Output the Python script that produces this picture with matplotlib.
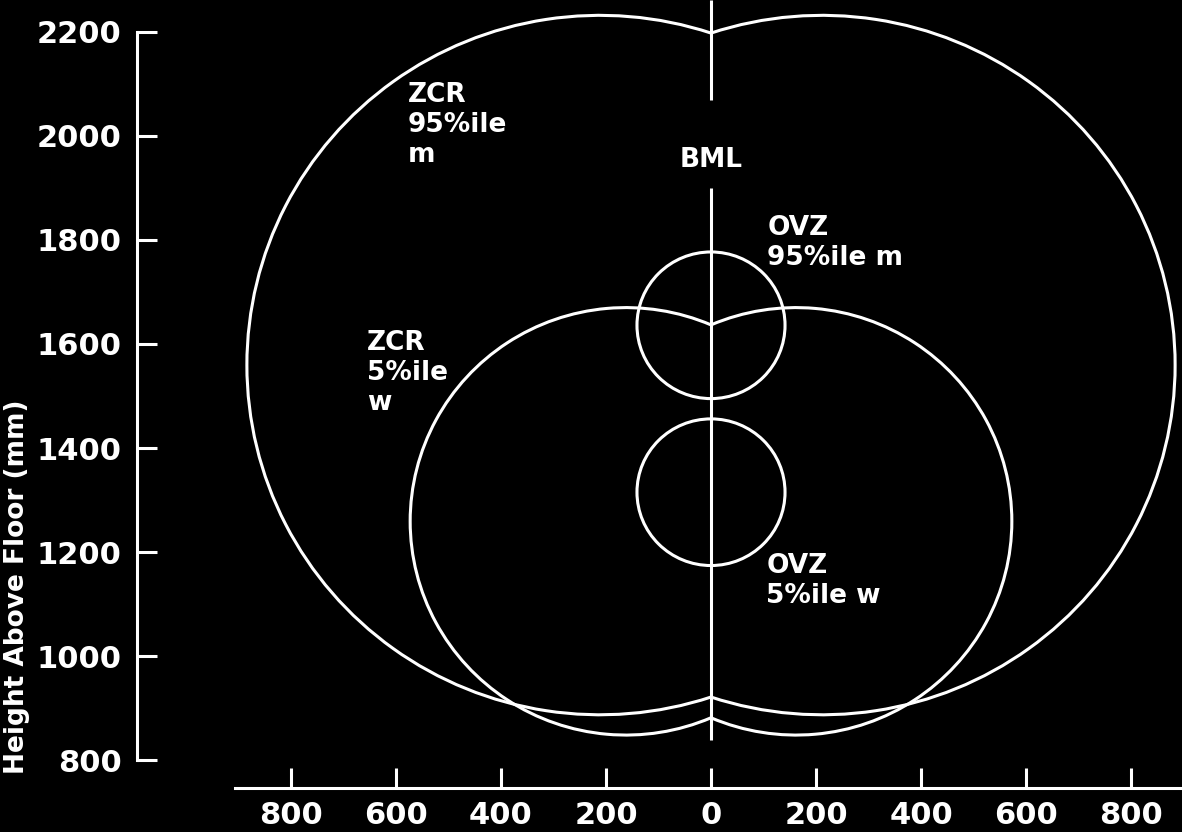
"""Reach envelopes (ZCR) and optimum visual zones (OVZ) about the body mid-line."""
import numpy as np
import matplotlib
matplotlib.use("Agg")
import matplotlib.pyplot as plt
from matplotlib.patches import Arc, Circle

# two-lobed reach envelopes: lobe centre offset from BML, centre height, lobe radius (mm)
zcr_names = ["ZCR 95%ile m", "ZCR 5%ile w"]
zcr_offset = [211.5, 162.0]
zcr_height = [1559.5, 1259.0]
zcr_radius = [672.5, 411.0]

# optimum visual zones: centre height and radius (mm), centred on BML
ovz_names = ["OVZ 95%ile m", "OVZ 5%ile w"]
ovz_height = [1636.0, 1315.0]
ovz_radius = [141.0, 141.0]

# body mid-line segments (gap for the label)
bml_bottom = [838.0, 2069.0]
bml_top = [1900.0, 2262.0]

y_ticks = [800, 1000, 1200, 1400, 1600, 1800, 2000, 2200]
x_ticks = [-800, -600, -400, -200, 0, 200, 400, 600, 800]

W, H = 1182, 832
fig = plt.figure(figsize=(W / 100, H / 100), dpi=100, facecolor="black")
ax = fig.add_axes([137 / W, 44 / H, 1045 / W, 788 / H], facecolor="black")
ax.set_xlim(-1093.3, 897.1)
ax.set_ylim(746.2, 2261.5)

lw = 2.2
fg = "white"

for off, cy, r in zip(zcr_offset, zcr_height, zcr_radius):
    t0 = np.degrees(np.arccos(off / r))
    # left lobe, only the part left of the mid-line
    ax.add_patch(Arc((-off, cy), 2 * r, 2 * r, theta1=t0, theta2=360 - t0,
                     color=fg, lw=lw))
    # right lobe, only the part right of the mid-line
    ax.add_patch(Arc((off, cy), 2 * r, 2 * r, theta1=180 + t0, theta2=540 - t0,
                     color=fg, lw=lw))

for cy, r in zip(ovz_height, ovz_radius):
    ax.add_patch(Circle((0, cy), r, fill=False, edgecolor=fg, lw=lw))

ax.vlines([0, 0], bml_bottom, bml_top, color=fg, lw=lw)

# labels
tk = dict(color=fg, fontsize=19, fontweight="bold", va="top", ha="left")
ax.text(-577, 2104, "ZCR\n95%ile\nm", **tk)
ax.text(-655, 1627, "ZCR\n5%ile\nw", **tk)
ax.text(107, 1848, "OVZ\n95%ile m", **tk)
ax.text(105, 1198, "OVZ\n5%ile w", **tk)
ax.text(0, 1979, "BML", color=fg, fontsize=19, fontweight="bold", va="top", ha="center")

# axes styling
for s in ["top", "right"]:
    ax.spines[s].set_visible(False)
ax.spines["left"].set_bounds(800, 2200)
ax.spines["bottom"].set_bounds(-907, 897)
for s in ["left", "bottom"]:
    ax.spines[s].set_color(fg)
    ax.spines[s].set_linewidth(lw)

ax.set_yticks(y_ticks)
ax.set_xticks(x_ticks)
ax.set_xticklabels([str(abs(v)) for v in x_ticks])
ax.tick_params(axis="both", direction="in", length=14.4, width=lw, color=fg,
               labelcolor=fg, labelsize=22)
ax.tick_params(axis="y", pad=11)
ax.tick_params(axis="x", pad=9)
for lab in ax.get_xticklabels() + ax.get_yticklabels():
    lab.set_fontweight("bold")

fig.text(17 / W, 1 - 587 / H, "Height Above Floor (mm)", rotation=90, color=fg,
         fontsize=19, fontweight="bold", ha="center", va="center")

fig.savefig("out.png", dpi=100, facecolor="black")
